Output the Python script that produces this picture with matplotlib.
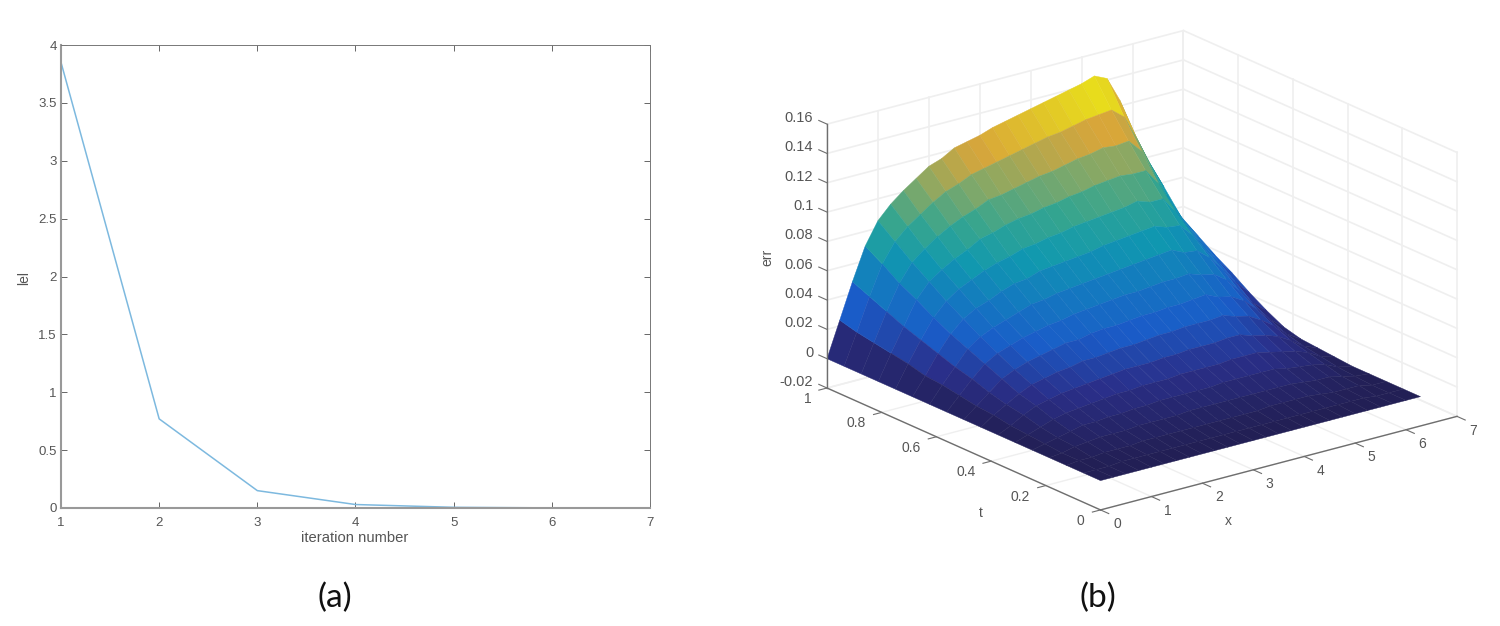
import matplotlib
matplotlib.use("Agg")
import matplotlib.pyplot as plt
import numpy as np
from matplotlib.colors import LinearSegmentedColormap
from mpl_toolkits.mplot3d import proj3d

plt.rcParams["font.family"] = ["Liberation Sans", "DejaVu Sans"]

##### panel (a) #####
iteration = [1, 2, 3, 4, 5, 6, 7]
lel = [3.85, 0.77, 0.15, 0.03, 0.006, 0.001, 0.0002]
yticks_a = [0, 0.5, 1, 1.5, 2, 2.5, 3, 3.5, 4]
yticklabels_a = ["0", "0.5", "1", "1.5", "2", "2.5", "3", "3.5", "4"]

##### panel (b) ##### err values in thousandths, one row per t, top row is t=0
x_vals = [0, 0.25, 0.5, 0.75, 1, 1.25, 1.5, 1.75, 2, 2.25, 2.5, 2.75, 3, 3.25, 3.5, 3.75, 4,
          4.25, 4.5, 4.75, 5, 5.25, 5.5, 5.75, 6, 6.283]
t_vals = [0, 0.0625, 0.125, 0.1875, 0.25, 0.3125, 0.375, 0.4375, 0.5, 0.5625, 0.625, 0.6875,
          0.75, 0.8125, 0.875, 0.9375, 1]
err_milli = [
    [0, 0, 0, 0, 0, 0, 0, 0, 0, 0, 0, 0, 0, 0, 0, 0, 0, 0, 0, 0, 0, 0, 0, 0, 0, 0],
    [0, 0, 0, 1, 1, 1, 1, 1, 1, 1, 1, 1, 1, 1, 1, 1, 1, 1, 1, 1, 1, 1, 1, 0, 0, 0],
    [0, 1, 1, 2, 2, 2, 3, 3, 3, 3, 3, 3, 3, 3, 3, 3, 4, 4, 4, 4, 3, 2, 2, 2, 0, 0],
    [0, 1, 3, 4, 5, 5, 5, 6, 6, 6, 6, 7, 7, 7, 7, 7, 7, 7, 7, 7, 6, 5, 5, 3, 1, 0],
    [0, 2, 4, 6, 8, 8, 9, 9, 10, 10, 11, 11, 11, 11, 11, 12, 12, 12, 12, 12, 10, 9, 8, 6, 2, 0],
    [0, 3, 6, 9, 11, 12, 13, 14, 15, 15, 16, 16, 16, 17, 17, 17, 17, 18, 18, 18, 16, 14, 12, 9, 4, 1],
    [0, 4, 9, 13, 15, 17, 18, 19, 20, 21, 22, 22, 22, 23, 23, 24, 24, 24, 25, 25, 22, 20, 17, 12, 6, 2],
    [0, 6, 11, 16, 20, 22, 24, 25, 27, 27, 28, 29, 29, 30, 31, 31, 32, 32, 32, 33, 30, 28, 23, 17, 9, 3],
    [0, 7, 14, 21, 25, 28, 30, 32, 34, 34, 36, 37, 37, 38, 39, 39, 40, 40, 41, 42, 38, 36, 31, 23, 14, 6],
    [0, 9, 18, 26, 31, 34, 37, 39, 41, 42, 44, 45, 46, 47, 48, 48, 49, 50, 50, 51, 48, 46, 40, 30, 20, 12],
    [0, 11, 21, 31, 37, 41, 44, 47, 50, 51, 53, 54, 55, 56, 57, 58, 59, 60, 61, 62, 58, 57, 50, 40, 29, 19],
    [0, 12, 25, 36, 44, 49, 52, 56, 59, 60, 63, 64, 65, 66, 67, 69, 70, 71, 72, 73, 70, 69, 60, 48, 38, 27],
    [0, 15, 29, 42, 51, 57, 61, 65, 68, 70, 73, 74, 76, 77, 79, 80, 81, 82, 83, 85, 82, 82, 71, 57, 46, 34],
    [0, 17, 33, 49, 59, 65, 70, 74, 79, 81, 84, 86, 87, 89, 90, 92, 93, 95, 96, 97, 96, 96, 85, 68, 55, 42],
    [0, 19, 38, 55, 67, 74, 80, 85, 89, 92, 96, 97, 99, 101, 103, 104, 106, 108, 109, 111, 110, 111, 102, 84, 67, 50],
    [0, 21, 43, 63, 76, 84, 90, 96, 101, 104, 108, 110, 112, 114, 116, 118, 120, 121, 123, 125, 126, 127, 120, 103, 84, 65],
    [0, 24, 48, 70, 85, 94, 101, 107, 113, 116, 121, 123, 125, 128, 130, 132, 134, 136, 138, 140, 142, 145, 141, 124, 101, 79],
]
xticks_b = [0, 1, 2, 3, 4, 5, 6, 7]
tticks_b = [0, 0.2, 0.4, 0.6, 0.8, 1]
zticks_b = [-0.02, 0, 0.02, 0.04, 0.06, 0.08, 0.1, 0.12, 0.14, 0.16]
xticklabels_b = ["0", "1", "2", "3", "4", "5", "6", "7"]
tticklabels_b = ["0", "0.2", "0.4", "0.6", "0.8", "1"]
zticklabels_b = ["-0.02", "0", "0.02", "0.04", "0.06", "0.08", "0.1", "0.12", "0.14", "0.16"]

W, H = 1500, 626
TXT = "#555555"
AXC = "#6e6e6e"
GRID = "#efefef"
# parula as it looks under the fine dark mesh of the original
parula = LinearSegmentedColormap.from_list("parula_dark", ["#221F55", "#2A2F8A", "#1A5CC8", "#1478C0", "#1098B0",
                                                           "#35A58F", "#82A868", "#D8A63A", "#E8DC1C"])

fig = plt.figure(figsize=(15, 6.26), dpi=100)

######## panel a ########
ax = fig.add_axes([61 / W, 1 - 508 / H, (650 - 61) / W, (508 - 45) / H])
ax.plot(iteration, lel, color="#7DB9DF", lw=1.1)
ax.set_xlim(1, 7)
ax.set_ylim(0, 4)
ax.set_xticks(iteration)
ax.set_yticks(yticks_a)
ax.set_yticklabels(yticklabels_a)
ax.tick_params(direction="in", length=4.5, width=0.7, color="#666666", labelcolor=TXT, labelsize=9.5, pad=3,
               top=True, right=True)
ax.tick_params(axis="x", pad=6.5)
for name, sp in ax.spines.items():
    sp.set_color("#777777" if name in ("top", "right") else "#999999")
    sp.set_linewidth(0.7 if name in ("top", "right") else 1.5)
fig.text(355 / W, 1 - 538 / H, "iteration number", color=TXT, fontsize=10.6, ha="center", va="center")
fig.text(24 / W, 1 - 278 / H, "lel", color=TXT, fontsize=10, ha="center", va="center", rotation=90)

######## panel b ########
box = [700, 0, 800, 560]
ax3 = fig.add_axes([box[0] / W, 1 - (box[1] + box[3]) / H, box[2] / W, box[3] / H], projection="3d",
                   proj_type="ortho", computed_zorder=False)
ax3.view_init(elev=20, azim=-127.5)
ax3.set_box_aspect((1, 1, 0.625))
ax3.set_xlim(0, 7)
ax3.set_ylim(0, 1)
ax3.set_zlim(-0.02, 0.16)
ax3.set_xticks([])
ax3.set_yticks([])
ax3.set_zticks([])
ax3.set_axis_off()
ax3.patch.set_alpha(0)

# grid on the floor and on the two back walls
for v in xticks_b:
    ax3.plot([v, v], [0, 1], [-0.02, -0.02], color=GRID, lw=1, zorder=1)
    ax3.plot([v, v], [1, 1], [-0.02, 0.16], color=GRID, lw=1.2, zorder=1)
for v in tticks_b:
    ax3.plot([0, 7], [v, v], [-0.02, -0.02], color=GRID, lw=1, zorder=1)
    ax3.plot([7, 7], [v, v], [-0.02, 0.16], color=GRID, lw=1.2, zorder=1)
for v in zticks_b:
    ax3.plot([0, 7], [1, 1], [v, v], color=GRID, lw=1.2, zorder=1)
    ax3.plot([7, 7], [0, 1], [v, v], color=GRID, lw=1.2, zorder=1)

XX, TT = np.meshgrid(x_vals, t_vals)
ERR = np.array(err_milli) / 1000
surf = ax3.plot_surface(XX, TT, ERR, rstride=1, cstride=1, cmap=parula, vmin=0, vmax=0.135, shade=False,
                        linewidth=0.3, antialiased=True, zorder=2)
surf.set_edgecolor("face")

# axis lines and ticks
ax3.plot([0, 7], [0, 0], [-0.02, -0.02], color=AXC, lw=1, zorder=3)
ax3.plot([0, 0], [0, 1], [-0.02, -0.02], color=AXC, lw=1, zorder=3)
ax3.plot([0, 0], [1, 1], [-0.02, 0.16], color=AXC, lw=1, zorder=3)
for v in xticks_b:
    ax3.plot([v, v], [0, -0.03], [-0.02, -0.02], color=AXC, lw=0.8, zorder=3)
for v in tticks_b:
    ax3.plot([0, -0.16], [v, v], [-0.02, -0.02], color=AXC, lw=0.8, zorder=3)
for v in zticks_b:
    ax3.plot([0, 0], [1, 1.03], [v, v], color=AXC, lw=0.8, zorder=3)


def corner_px(x, y, z):
    px, py, _ = proj3d.proj_transform(x, y, z, ax3.get_proj())
    return ax3.transData.transform((px, py))


def tick_label(x, y, z, s, ha, size=10):
    px, py = corner_px(x, y, z)
    fig.text(px / W, py / H, s, color=TXT, fontsize=size, ha=ha, va="center")


# fit the 3d box to where it sits in the picture (left corner 827,388 and right corner 1457,417)
fig.canvas.draw()
left = corner_px(0, 1, -0.02)
right = corner_px(7, 0, -0.02)
scale = (1457 - 827) / (right[0] - left[0])
box = [box[0], box[1], box[2] * scale, box[3] * scale]
ax3.set_position([box[0] / W, 1 - (box[1] + box[3]) / H, box[2] / W, box[3] / H])
fig.canvas.draw()
left = corner_px(0, 1, -0.02)
dx = 827 - left[0]
dy = (H - 388) - left[1]
ax3.set_position([(box[0] + dx) / W, 1 - (box[1] + box[3]) / H + dy / H, box[2] / W, box[3] / H])
fig.canvas.draw()

for v, s in zip(xticks_b, xticklabels_b):
    tick_label(v, -0.06, -0.0247, s, "center")
for v, s in zip(tticks_b, tticklabels_b):
    tick_label(-0.31, v, -0.0247, s, "right")
for v, s in zip(zticks_b, zticklabels_b):
    tick_label(0, 1.05, v, s, "right", size=10.5)

fig.text(767 / W, 1 - 257 / H, "err", color=TXT, fontsize=10, ha="center", va="center", rotation=90)
fig.text(981 / W, 1 - 513 / H, "t", color=TXT, fontsize=10, ha="center", va="center")
fig.text(1228 / W, 1 - 521 / H, "x", color=TXT, fontsize=10, ha="center", va="center")

######## captions ########
fig.text(335 / W, 1 - 598 / H, "(a)", color="#111111", fontsize=24, family="Lato", ha="center", va="center")
fig.text(1098 / W, 1 - 598 / H, "(b)", color="#111111", fontsize=24, family="Lato", ha="center", va="center")

fig.savefig("out.png", dpi=100)
